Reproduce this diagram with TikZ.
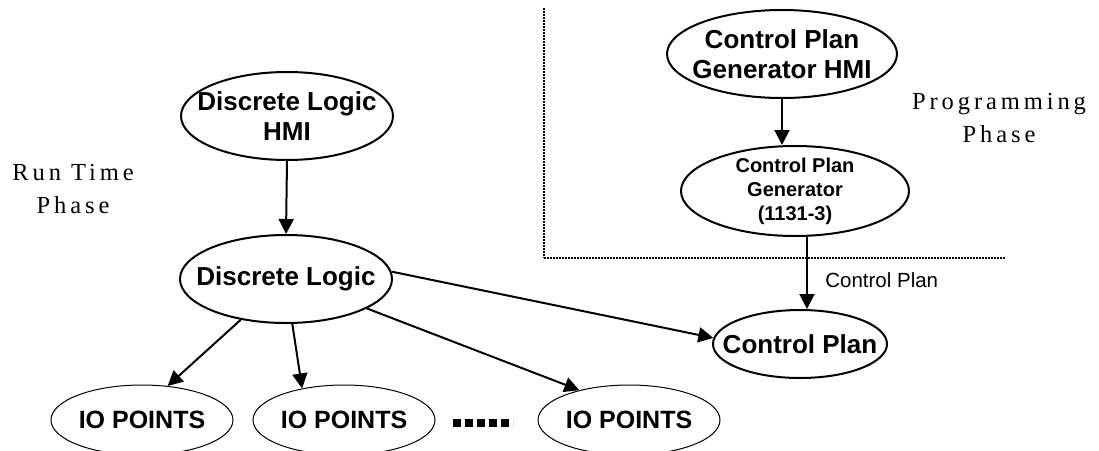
\documentclass[tikz,border=0pt]{standalone}
\usepackage{fontspec}
\setmainfont{Liberation Sans}
\newfontfamily\phasefont[LetterSpace=16]{Liberation Serif}
\usetikzlibrary{arrows.meta,shapes.geometric}

\tikzset{
  blob/.style={ellipse, draw, line width=2pt, inner sep=-200pt, align=center,
               font=\bfseries\fontsize{26}{30}\selectfont},
  iobox/.style={ellipse, draw, line width=1pt, inner sep=-200pt,
               minimum width=182pt, minimum height=70pt,
               font=\bfseries\fontsize{25}{30}\selectfont},
  phase/.style={align=center, font=\phasefont\fontsize{24.5}{33}\selectfont},
  flow/.style={line width=2pt, -{Triangle[length=15pt,width=15pt]}},
  border/.style={line width=2.2pt, dash pattern=on 2pt off 1pt}
}

\begin{document}
\begin{tikzpicture}[x=1pt,y=-1pt]
  \useasboundingbox (0,0) rectangle (1099,450);

  % run-time side
  \node[blob, minimum width=212pt, minimum height=88pt] (dlh) at (287,116) {Discrete Logic\\HMI};
  \node[blob, minimum width=212pt, minimum height=88pt] (dl) at (286,279) {Discrete Logic};
  \node[iobox] (io1) at (142,420) {IO POINTS};
  \node[iobox] (io2) at (344,420) {IO POINTS};
  \node[iobox] (io3) at (629,420) {IO POINTS};
  \coordinate (dotsL) at (453,423);
  \coordinate (dotsR) at (513,423);
  \draw[line width=8pt, dash pattern=on 8pt off 4pt] (dotsL) -- (dotsR);

  % programming side
  \node[blob, minimum width=230pt, minimum height=88pt] (cpgh) at (782,54) {Control Plan\\Generator HMI};
  \node[blob, minimum width=228pt, minimum height=90pt,
        font=\bfseries\fontsize{20}{24}\selectfont] (cpg) at (795,191) {Control Plan\\Generator\\(1131-3)};
  \node[blob, minimum width=174pt, minimum height=68pt] (cp) at (800,344) {Control Plan};

  % phase labels
  \node[phase] (rt) at (73,189) {Run Time\\Phase};
  \node[phase] (pp) at (999,118) {Programming\\Phase};

  % phase boundary
  \coordinate (bTop) at (544,8);
  \coordinate (bCorner) at (544,258);
  \coordinate (bEnd) at (1005,258);
  \draw[border] (bTop) -- (bCorner);
  \draw[border, line width=1.6pt] (bCorner) -- (bEnd);

  % connectors
  \draw[flow] (dlh.south) -- (dl.north);
  \draw[flow] (cpgh.south) -- (cpgh.south |- cpg.north);
  \draw[flow] ([xshift=12pt]cpg.south) -- ([xshift=7pt]cp.north)
    node[pos=0.6, right=14pt, font=\fontsize{20.5}{24}\selectfont] (cplabel) {Control Plan};
  \draw[flow] (dl.4) -- (cp.176);
  \draw[flow] (dl.222) -- (io1.53);
  \draw[flow] (dl.278) -- (io2.143);
  \draw[flow] (dl.340) -- (io3.149);
\end{tikzpicture}
\end{document}
